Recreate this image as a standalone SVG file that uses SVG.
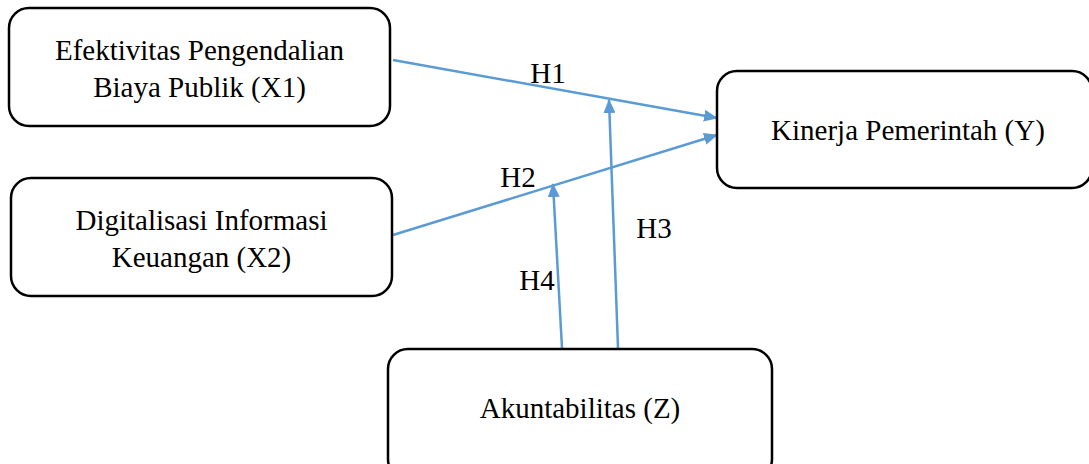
<svg xmlns="http://www.w3.org/2000/svg" width="1089" height="464" viewBox="0 0 1089 464">
<style>
.box{fill:#fff;stroke:#000;stroke-width:2.5}
.t{font-family:'Liberation Serif','Times New Roman',serif;font-size:29px;fill:#000;text-anchor:middle}
.c{stroke:#5B9BD5;stroke-width:2.5;fill:none;marker-end:url(#ah)}
</style>
<defs>
<marker id="ah" markerUnits="userSpaceOnUse" markerWidth="14" markerHeight="12" refX="13" refY="6" orient="auto">
<path d="M0,0 L14,6 L0,12 z" fill="#5B9BD5"/>
</marker>
</defs>
<rect width="1089" height="464" fill="#fff"/>
<g id="connectors">
<line class="c" x1="393" y1="60" x2="717" y2="118"/>
<line class="c" x1="393" y1="235" x2="717" y2="135"/>
<line class="c" x1="618" y1="348" x2="609" y2="100"/>
<line class="c" x1="562" y1="348" x2="553" y2="184"/>
<text class="t" x="548" y="83">H1</text>
<text class="t" x="518" y="187">H2</text>
<text class="t" x="654" y="238">H3</text>
<text class="t" x="537" y="290">H4</text>
</g>
<g id="x1">
<rect class="box" x="9" y="8" width="381" height="118" rx="20"/>
<text class="t" x="199.5" y="60">Efektivitas Pengendalian</text>
<text class="t" x="199.5" y="97">Biaya Publik (X1)</text>
</g>
<g id="x2">
<rect class="box" x="11" y="178" width="381" height="118" rx="20"/>
<text class="t" x="201.5" y="230">Digitalisasi Informasi</text>
<text class="t" x="201.5" y="267">Keuangan (X2)</text>
</g>
<g id="y">
<rect class="box" x="717" y="71" width="375" height="117" rx="20"/>
<text class="t" x="908" y="140">Kinerja Pemerintah (Y)</text>
</g>
<g id="z">
<rect class="box" x="388" y="349" width="384" height="130" rx="20"/>
<text class="t" x="580" y="418">Akuntabilitas (Z)</text>
</g>
</svg>
